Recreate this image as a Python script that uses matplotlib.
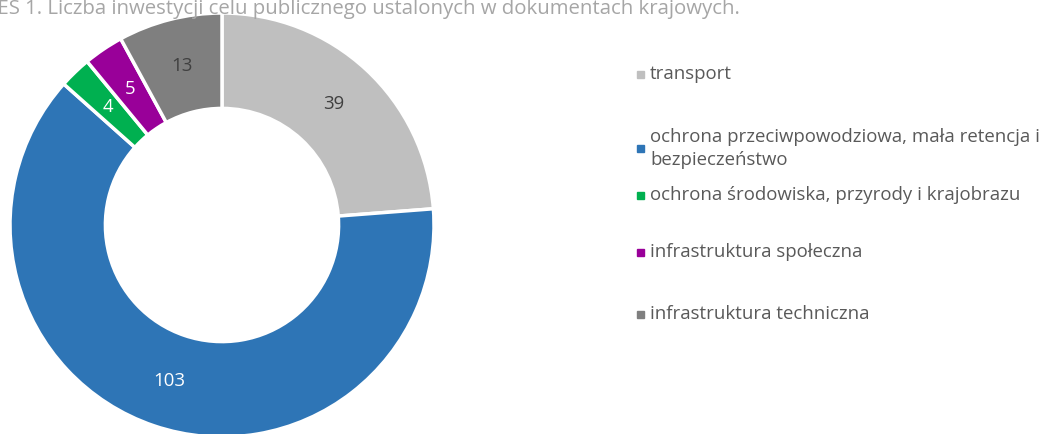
import matplotlib
matplotlib.use("Agg")
import matplotlib.pyplot as plt
from matplotlib.patches import Rectangle
import numpy as np

plt.rcParams['font.family'] = ['Open Sans', 'DejaVu Sans']

categories = ["transport",
              "ochrona przeciwpowodziowa, mała retencja i\nbezpieczeństwo",
              "ochrona środowiska, przyrody i krajobrazu",
              "infrastruktura społeczna",
              "infrastruktura techniczna"]
values = [39, 103, 4, 5, 13]
colors = ["#BFBFBF", "#2E75B6", "#00B050", "#990099", "#7F7F7F"]
label_colors = ["#404040", "white", "white", "white", "#404040"]
title_prefix = "WYKRES 1. "
title_main = "Liczba inwestycji celu publicznego ustalonych w dokumentach krajowych."

W, H = 1043, 434
fig = plt.figure(figsize=(W / 100, H / 100), dpi=100)
renderer = fig.canvas.get_renderer()

# title, cut at the top like in the reference
tfs = 14.7
probe = fig.text(0, 0, title_prefix.replace(" ", "\u00a0"), fontsize=tfs)
pw = probe.get_window_extent(renderer).width
probe.remove()
fig.text((47 - pw) / W, 1 - 14 / H, title_prefix + title_main, ha='left', va='baseline',
         fontsize=tfs, color='#A6A6A6')

ax = fig.add_axes([10 / W, -3 / H, 424 / W, 424 / H])
wedges, _ = ax.pie(values, colors=colors, startangle=90, counterclock=False,
                   radius=1.0, wedgeprops=dict(width=0.45, edgecolor='white', linewidth=2.5))
for w, v, lc in zip(wedges, values, label_colors):
    ang = np.deg2rad((w.theta1 + w.theta2) / 2)
    r = 0.775
    ax.text(r * np.cos(ang), r * np.sin(ang), str(v), ha='center', va='center',
            fontsize=13.4, color=lc)
ax.set_xlim(-1, 1)
ax.set_ylim(-1, 1)
ax.set_aspect('equal')
ax.axis('off')

# legend
legend_y = [74, 148.5, 195, 252, 314]
for cat, col, y in zip(categories, colors, legend_y):
    fig.patches.append(Rectangle(((637) / W, 1 - (y + 3.5) / H), 7 / W, 7 / H,
                                 transform=fig.transFigure, color=col))
    fig.text(650 / W, 1 - y / H, cat, ha='left', va='center', fontsize=13.4,
             color='#595959', linespacing=1.33)

fig.savefig("out.png", dpi=100)
